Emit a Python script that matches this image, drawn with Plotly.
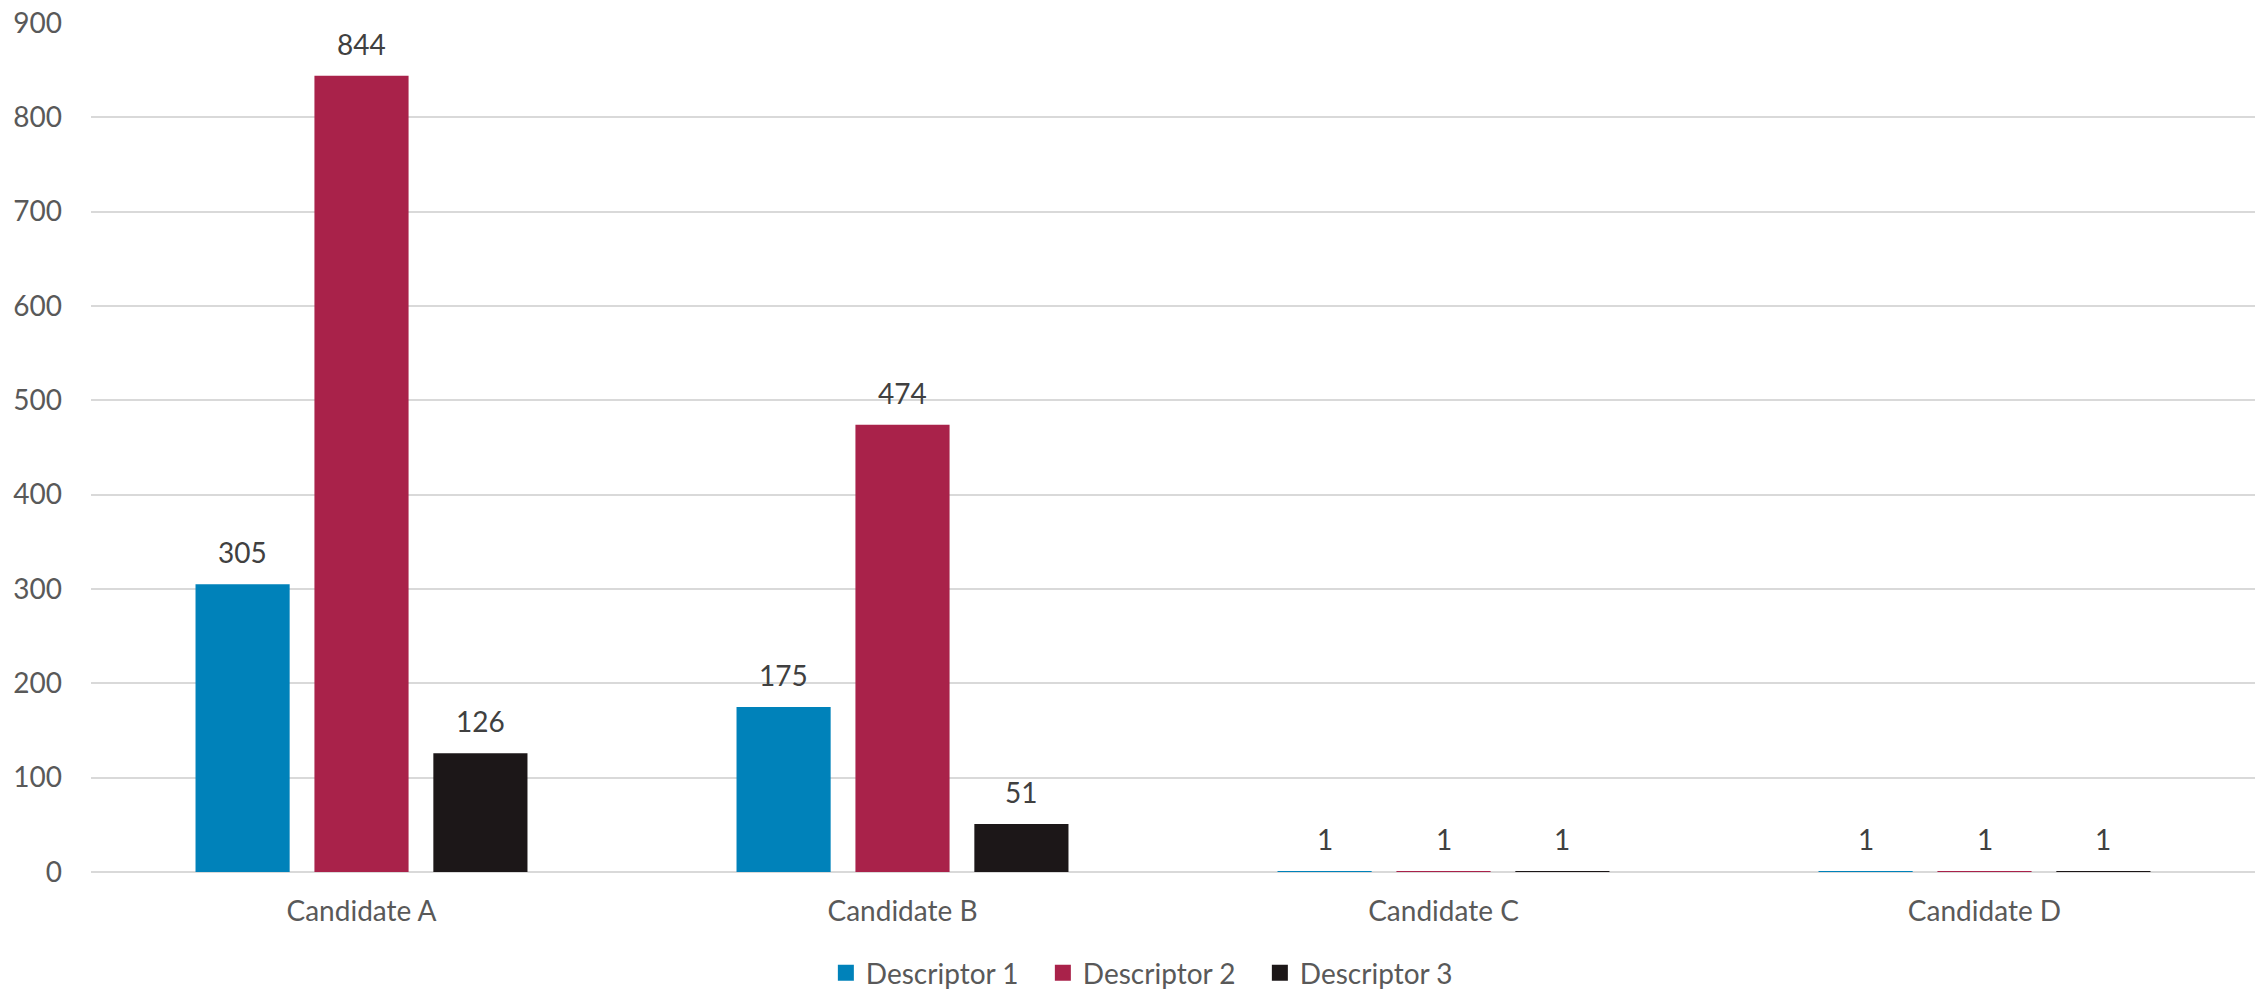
import plotly.graph_objects as go

categories = ["Candidate A", "Candidate B", "Candidate C", "Candidate D"]
series_names = ["Descriptor 1", "Descriptor 2", "Descriptor 3"]
descriptor1 = [305, 175, 1, 1]
descriptor2 = [844, 474, 1, 1]
descriptor3 = [126, 51, 1, 1]
y_ticks = [0, 100, 200, 300, 400, 500, 600, 700, 800, 900]

series_values = [descriptor1, descriptor2, descriptor3]
colors = ["#0082BA", "#A9224A", "#1C1718"]

FONT = "Lato"
bar_w = 0.174
step = 0.2198

fig = go.Figure()
for k, (name, vals, col) in enumerate(zip(series_names, series_values, colors)):
    fig.add_trace(go.Bar(
        name=name, x=categories, y=vals,
        marker=dict(color=col, line=dict(width=0)),
        width=bar_w, offset=(k - 1) * step - bar_w / 2,
        showlegend=False,
    ))
    # legend-only entry with a larger square swatch
    fig.add_trace(go.Scatter(
        name=name, x=[None], y=[None], mode="markers",
        marker=dict(symbol="square", size=18, color=col, line=dict(width=0)),
        showlegend=True, hoverinfo="skip",
    ))
    for i, v in enumerate(vals):
        fig.add_annotation(
            x=i + (k - 1) * step, y=v, xref="x", yref="y",
            text=str(v), showarrow=False, yanchor="bottom",
            yshift=13, font=dict(family=FONT, size=28, color="#404040"),
        )

fig.update_layout(
    width=2264, height=990,
    margin=dict(l=91, r=9, t=23, b=118, autoexpand=False),
    paper_bgcolor="white", plot_bgcolor="white",
    barmode="group",
    font=dict(family=FONT, size=28, color="#595959"),
    showlegend=True,
    legend=dict(
        orientation="h", x=0.490, xanchor="center",
        yref="container", y=0.017, yanchor="middle",
        font=dict(family=FONT, size=28, color="#595959"),
        traceorder="normal", itemwidth=30, itemsizing="trace",
        entrywidth=172, entrywidthmode="pixels",
    ),
)
fig.update_xaxes(
    type="category", showgrid=False, showline=False, zeroline=False,
    tickfont=dict(family=FONT, size=28, color="#595959"),
    ticks="", ticklabelstandoff=20,
)
fig.update_yaxes(
    range=[0, 900], tickvals=y_ticks, showgrid=True, gridcolor="#D9D9D9",
    gridwidth=2, zeroline=True, zerolinecolor="#D9D9D9", zerolinewidth=2,
    showline=False, ticks="", ticklabelstandoff=28,
    tickfont=dict(family=FONT, size=28, color="#595959"),
)

fig.write_html("out.html")
